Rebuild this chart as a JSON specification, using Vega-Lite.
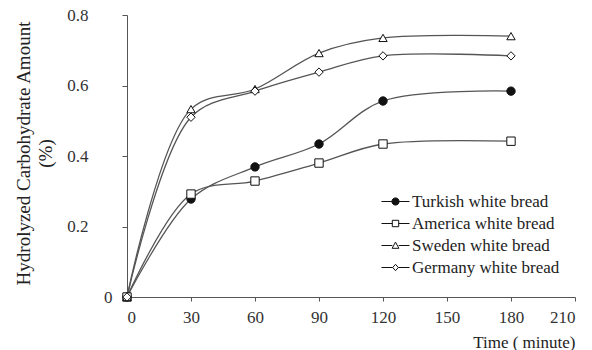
{
  "$schema": "https://vega.github.io/schema/vega-lite/v6.json",
  "width": 448,
  "height": 282,
  "autosize": "none",
  "padding": {"left": 127, "top": 15, "right": 17, "bottom": 53},
  "background": "white",
  "config": {
    "font": "Liberation Serif",
    "view": {"stroke": null},
    "axis": {
      "grid": false,
      "domainColor": "#555",
      "tickColor": "#555",
      "labelColor": "#333",
      "titleColor": "#222",
      "labelFont": "Liberation Serif",
      "titleFont": "Liberation Serif",
      "labelFontSize": 17,
      "titleFontWeight": "normal"
    }
  },
  "data": {
    "values": [
      {"series": "Turkish white bread", "time": 0, "amount": 0},
      {"series": "Turkish white bread", "time": 30, "amount": 0.278},
      {"series": "Turkish white bread", "time": 60, "amount": 0.369},
      {"series": "Turkish white bread", "time": 90, "amount": 0.434},
      {"series": "Turkish white bread", "time": 120, "amount": 0.556},
      {"series": "Turkish white bread", "time": 180, "amount": 0.584},
      {"series": "America white bread", "time": 0, "amount": 0},
      {"series": "America white bread", "time": 30, "amount": 0.292},
      {"series": "America white bread", "time": 60, "amount": 0.329},
      {"series": "America white bread", "time": 90, "amount": 0.38},
      {"series": "America white bread", "time": 120, "amount": 0.434},
      {"series": "America white bread", "time": 180, "amount": 0.442},
      {"series": "Sweden white bread", "time": 0, "amount": 0},
      {"series": "Sweden white bread", "time": 30, "amount": 0.533},
      {"series": "Sweden white bread", "time": 60, "amount": 0.59},
      {"series": "Sweden white bread", "time": 90, "amount": 0.692},
      {"series": "Sweden white bread", "time": 120, "amount": 0.735},
      {"series": "Sweden white bread", "time": 180, "amount": 0.74},
      {"series": "Germany white bread", "time": 0, "amount": 0},
      {"series": "Germany white bread", "time": 30, "amount": 0.51},
      {"series": "Germany white bread", "time": 60, "amount": 0.584},
      {"series": "Germany white bread", "time": 90, "amount": 0.638},
      {"series": "Germany white bread", "time": 120, "amount": 0.684},
      {"series": "Germany white bread", "time": 180, "amount": 0.684}
    ]
  },
  "encoding": {
    "x": {
      "field": "time",
      "type": "quantitative",
      "scale": {"domain": [0, 210], "nice": false},
      "axis": {
        "values": [0, 30, 60, 90, 120, 150, 180, 210],
        "tickSize": 4,
        "labelPadding": 8,
        "title": "Time ( minute)",
        "titleFontSize": 17,
        "titleAnchor": "end",
        "titleBaseline": "middle",
        "titleY": 45
      }
    },
    "y": {
      "field": "amount",
      "type": "quantitative",
      "scale": {"domain": [0, 0.8], "nice": false},
      "axis": {
        "values": [0, 0.2, 0.4, 0.6, 0.8],
        "labelExpr": "datum.value == 0 ? '0' : format(datum.value, '.1f')",
        "tickSize": 5,
        "labelPadding": {"condition": {"test": "datum.value == 0", "value": 10}, "value": 34},
        "title": ["Hydrolyzed Carbohydrate Amount", "(%)"],
        "titleFontSize": 19,
        "titleLineHeight": 22,
        "titleBaseline": "middle",
        "titleX": -104,
        "titleY": 138
      }
    }
  },
  "layer": [
    {
      "mark": {"type": "line", "interpolate": "catmull-rom", "color": "#555", "strokeWidth": 1.3},
      "encoding": {"detail": {"field": "series"}}
    },
    {
      "mark": {"type": "point", "filled": true, "stroke": "#111", "strokeWidth": 1, "size": 70, "opacity": 1},
      "encoding": {
        "shape": {
          "field": "series",
          "scale": {
            "domain": ["Turkish white bread", "America white bread", "Sweden white bread", "Germany white bread"],
            "range": ["circle", "square", "triangle-up", "diamond"]
          },
          "legend": null
        },
        "fill": {
          "field": "series",
          "scale": {
            "domain": ["Turkish white bread", "America white bread", "Sweden white bread", "Germany white bread"],
            "range": ["#111", "white", "white", "white"]
          },
          "legend": null
        }
      }
    },
    {
      "transform": [{"filter": "false"}],
      "mark": {"type": "point", "filled": true, "stroke": "#111", "strokeWidth": 1, "size": 64, "opacity": 1},
      "encoding": {
        "shape": {
          "field": "series",
          "scale": {
            "domain": ["Turkish white bread", "America white bread", "Sweden white bread", "Germany white bread"],
            "range": [
              "M-3.5,0H-0.9M0.9,0H3.5M-0.9,0A0.9,0.9,0,1,1,0.9,0A0.9,0.9,0,1,1,-0.9,0Z",
              "M-3.5,0H-0.8M0.8,0H3.5M-0.8,-0.8H0.8V0.8H-0.8Z",
              "M-3.5,0H-0.8M0.8,0H3.5M0,-0.85L0.85,0.7H-0.85Z",
              "M-3.5,0H-0.7M0.7,0H3.5M0,-0.8L0.7,0L0,0.8L-0.7,0Z"
            ]
          },
          "legend": {
            "title": null,
            "orient": "none",
            "legendX": 260,
            "legendY": 178,
            "labelFont": "Liberation Serif",
            "labelFontSize": 17,
            "labelColor": "#222",
            "symbolSize": 64,
            "symbolStrokeWidth": 1,
            "labelOffset": 8,
            "rowPadding": 4
          }
        },
        "fill": {
          "field": "series",
          "scale": {
            "domain": ["Turkish white bread", "America white bread", "Sweden white bread", "Germany white bread"],
            "range": ["#111", "white", "white", "white"]
          },
          "legend": {
            "title": null,
            "orient": "none",
            "legendX": 260,
            "legendY": 178,
            "labelFont": "Liberation Serif",
            "labelFontSize": 17,
            "labelColor": "#222",
            "symbolSize": 64,
            "symbolStrokeWidth": 1,
            "labelOffset": 8,
            "rowPadding": 4
          }
        }
      }
    }
  ],
  "resolve": {"scale": {"shape": "independent", "fill": "independent"}}
}
